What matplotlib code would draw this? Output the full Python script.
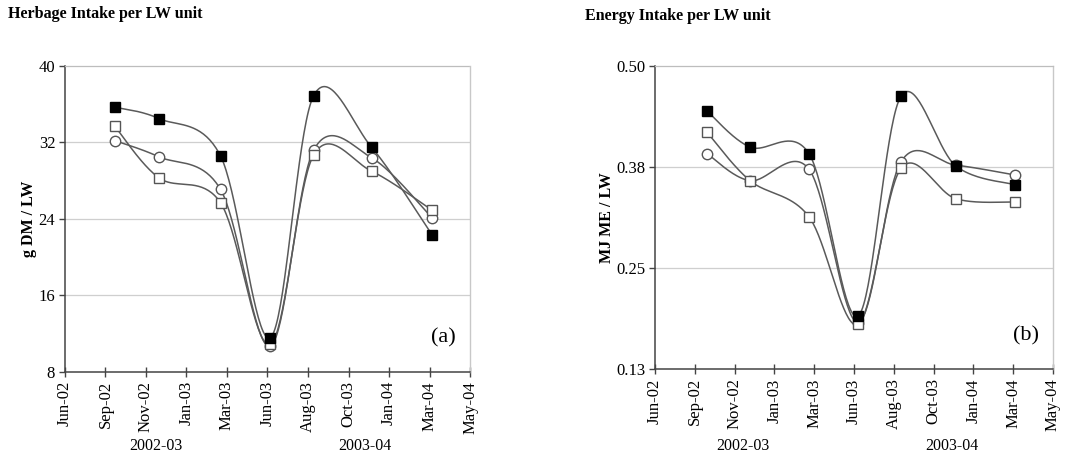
import numpy as np
import matplotlib
matplotlib.use("Agg")
import matplotlib.pyplot as plt
from matplotlib.ticker import FixedLocator, FuncFormatter

plt.rcParams['font.family'] = ['Liberation Serif', 'DejaVu Serif']

# Month axis: evenly spaced category ticks
month_labels = ["Jun-02", "Sep-02", "Nov-02", "Jan-03", "Mar-03", "Jun-03",
                "Aug-03", "Oct-03", "Jan-04", "Mar-04", "May-04"]

# Sampling positions on the month axis for each panel
x_herbage = [1.23, 2.32, 3.84, 5.07, 6.14, 7.57, 9.07]
x_energy = [1.31, 2.39, 3.87, 5.10, 6.18, 7.56, 9.05]

# Herbage intake (g DM / LW)
herb_filled_sq = [35.7, 34.5, 30.6, 11.6, 36.9, 31.5, 22.3]
herb_open_sq = [33.7, 28.3, 25.7, 10.9, 30.7, 29.0, 24.9]
herb_open_circ = [32.2, 30.5, 27.1, 10.7, 31.2, 30.4, 24.1]

# Energy intake (MJ ME / LW)
energy_filled_sq = [0.445, 0.401, 0.393, 0.195, 0.463, 0.378, 0.355]
energy_open_sq = [0.419, 0.360, 0.316, 0.185, 0.375, 0.338, 0.334]
energy_open_circ = [0.393, 0.360, 0.374, 0.187, 0.383, 0.379, 0.367]

season_labels = ["2002-03", "2003-04"]

LINE_COL = "#5a5a5a"


def smooth_curve(x, y, xr, yr, n=40):
    """Spreadsheet-style smoothed line: Catmull-Rom cubic Bezier segments,
    computed in normalised axis space."""
    x = np.asarray(x, float)
    y = np.asarray(y, float)
    xs = (x - xr[0]) / (xr[1] - xr[0])
    ys = (y - yr[0]) / (yr[1] - yr[0])
    pts = np.column_stack([xs, ys])
    out = []
    t = np.linspace(0, 1, n)[:, None]
    for i in range(len(pts) - 1):
        p0 = pts[i - 1] if i > 0 else pts[i]
        p1 = pts[i]
        p2 = pts[i + 1]
        p3 = pts[i + 2] if i + 2 < len(pts) else pts[i + 1]
        c1 = p1 + (p2 - p0) / 6.0
        c2 = p2 - (p3 - p1) / 6.0
        seg = ((1 - t) ** 3) * p1 + 3 * ((1 - t) ** 2) * t * c1 + \
            3 * (1 - t) * t ** 2 * c2 + t ** 3 * p2
        out.append(seg if i == 0 else seg[1:])
    c = np.vstack(out)
    return c[:, 0] * (xr[1] - xr[0]) + xr[0], c[:, 1] * (yr[1] - yr[0]) + yr[0]


def draw_panel(ax, xs, series, ylim, yticks, yfmt, ylabel, tag):
    xr = (0, 10)
    ax.set_xlim(*xr)
    ax.set_ylim(*ylim)
    for yv in yticks[1:-1]:
        ax.axhline(yv, color="#cfcfcf", lw=0.9, zorder=0)
    # order: open circles, open squares, filled squares (filled on top)
    styles = [
        dict(marker="o", mfc="white", mec="#555555"),
        dict(marker="s", mfc="white", mec="#555555"),
        dict(marker="s", mfc="black", mec="black"),
    ]
    for ys, st in zip(series, styles):
        cx, cy = smooth_curve(xs, ys, xr, ylim)
        ax.plot(cx, cy, color=LINE_COL, lw=1.1, zorder=2)
        ax.plot(xs, ys, linestyle="none", ms=7.5, mew=1.0, zorder=3, **st)

    ax.xaxis.set_major_locator(FixedLocator(range(len(month_labels))))
    ax.set_xticklabels(month_labels, rotation=90, fontsize=12)
    ax.yaxis.set_major_locator(FixedLocator(yticks))
    ax.yaxis.set_major_formatter(FuncFormatter(yfmt))
    ax.tick_params(axis="x", direction="inout", length=7, width=1.0,
                   color="#444444", pad=3)
    ax.tick_params(axis="y", direction="out", length=4, width=1.0,
                   color="#444444", labelsize=12, pad=3)
    for side in ("left", "bottom"):
        ax.spines[side].set_color("#444444")
        ax.spines[side].set_linewidth(1.1)
    ax.spines["right"].set_color("#c8c8c8")
    ax.spines["right"].set_linewidth(1.0)
    ax.spines["top"].set_color("#bdbdbd")
    ax.spines["top"].set_linestyle((0, (2, 1)))
    ax.spines["top"].set_linewidth(0.9)
    ax.set_ylabel(ylabel, fontsize=11.5, fontweight="bold", labelpad=1)
    ax.text(0.965, 0.08, tag, transform=ax.transAxes, ha="right",
            va="bottom", fontsize=16)


fig = plt.figure(figsize=(10.81, 4.57), dpi=100)

ax_a = fig.add_axes([0.0601, 0.186, 0.3747, 0.6696])
draw_panel(ax_a, x_herbage, [herb_open_circ, herb_open_sq, herb_filled_sq],
           (8, 40), [8, 16, 24, 32, 40], lambda v, p: f"{v:.0f}",
           "g DM / LW", "(a)")

ax_b = fig.add_axes([0.6059, 0.192, 0.3682, 0.6636])
e_ticks = list(np.linspace(0.13, 0.50, 4))
draw_panel(ax_b, x_energy, [energy_open_circ, energy_open_sq, energy_filled_sq],
           (0.13, 0.50), e_ticks, lambda v, p: f"{v:.2f}",
           "MJ ME / LW", "(b)")

fig.text(8 / 1081, 1 - 14 / 457, "Herbage Intake per LW unit",
         fontsize=11.5, fontweight="bold", ha="left", va="center")
fig.text(585 / 1081, 1 - 16 / 457, "Energy Intake per LW unit",
         fontsize=11.5, fontweight="bold", ha="left", va="center")

for xp, lab in zip([156, 365, 743, 952], season_labels * 2):
    fig.text(xp / 1081, 1 - 446 / 457, lab, fontsize=11.5, ha="center",
             va="center")

fig.savefig("out.png", dpi=100)
